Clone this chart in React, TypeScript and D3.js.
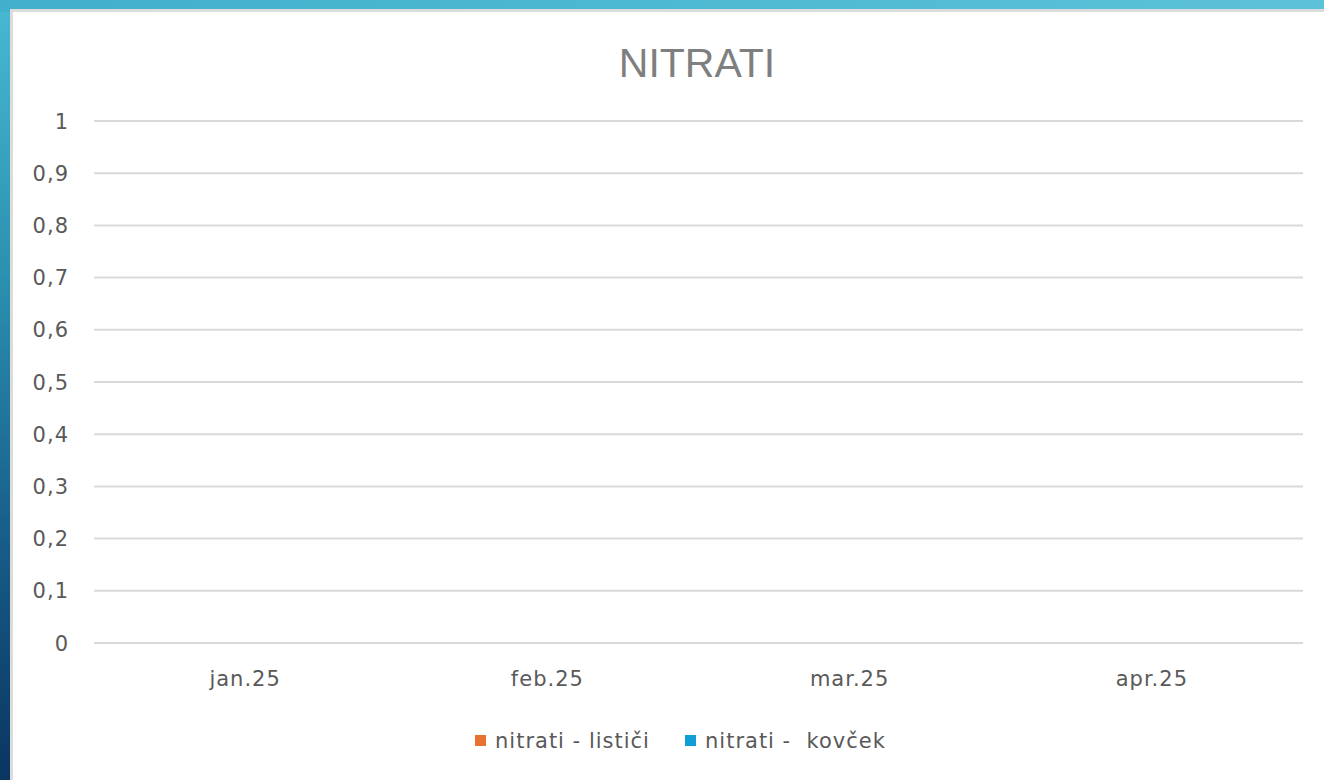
import React from "react";
import * as d3 from "d3";

const categories = ["jan.25", "feb.25", "mar.25", "apr.25"];
const seriesNames = ["nitrati - lističi", "nitrati -  kovček"];
const listiciValues: (number | null)[] = [null, null, null, null];
const kovcekValues: (number | null)[] = [null, null, null, null];
const yTicks = [0, 0.1, 0.2, 0.3, 0.4, 0.5, 0.6, 0.7, 0.8, 0.9, 1];
const colors = ["#E97132", "#0F9ED5"];

const W = 1324;
const H = 780;

export default function App() {
  const x = d3.scaleBand<string>().domain(categories).range([94, 1303]);
  const xs = d3.scaleBand<number>().domain([0, 1]).range([0, x.bandwidth()]).paddingInner(0.1).paddingOuter(0.6);
  const y = d3.scaleLinear().domain([0, 1]).range([643, 121]);
  const fmt = (v: number) => (v === 0 || v === 1 ? String(v) : d3.format(".1f")(v).replace(".", ","));
  const series = [listiciValues, kovcekValues];
  const titleFont = "'Liberation Sans', Arial, sans-serif";
  const font = "'DejaVu Sans', sans-serif";

  return (
    <svg width={W} height={H} style={{ position: "absolute", left: 0, top: 0 }}>
      <defs>
        <linearGradient id="bg" x1="0" y1="0" x2="0" y2="1">
          <stop offset="0" stopColor="#48b9d3" />
          <stop offset="0.35" stopColor="#2b91b0" />
          <stop offset="0.7" stopColor="#175c87" />
          <stop offset="1" stopColor="#0a3560" />
        </linearGradient>
        <linearGradient id="topStrip" x1="0" y1="0" x2="1" y2="0">
          <stop offset="0" stopColor="#40b0cb" />
          <stop offset="1" stopColor="#5cc2d9" />
        </linearGradient>
      </defs>
      <rect x={0} y={0} width={W} height={H} fill="url(#bg)" />
      <rect x={0} y={0} width={W} height={12} fill="url(#topStrip)" />
      <rect x={10} y={9} width={W - 10} height={H - 9} fill="#dcdcdc" />
      <rect x={13} y={12} width={W - 13} height={H - 12} fill="#ffffff" />

      <text x={697} y={77} textAnchor="middle" fontFamily={titleFont} fontSize={41} fill="#7f7f7f">
        NITRATI
      </text>

      {yTicks.map((t) => (
        <g key={t}>
          <line x1={94} x2={1303} y1={y(t)} y2={y(t)} stroke="#d9d9d9" strokeWidth={2} />
          <text x={69} y={y(t)} dy="0.36em" textAnchor="end" fontFamily={font} fontSize={21} letterSpacing={1} fill="#595959">
            {fmt(t)}
          </text>
        </g>
      ))}

      {series.map((vals, si) =>
        vals.map((v, i) =>
          v == null ? null : (
            <rect
              key={`${si}-${i}`}
              x={(x(categories[i]) ?? 0) + (xs(si) ?? 0)}
              y={y(v)}
              width={xs.bandwidth()}
              height={y(0) - y(v)}
              fill={colors[si]}
            />
          )
        )
      )}

      {categories.map((c) => (
        <text key={c} x={(x(c) ?? 0) + x.bandwidth() / 2} y={686} textAnchor="middle" fontFamily={font} fontSize={21} letterSpacing={1} fill="#595959">
          {c}
        </text>
      ))}

      {seriesNames.map((n, i) => {
        const lx = i === 0 ? 475 : 685;
        return (
          <g key={n}>
            <rect x={lx} y={735} width={11} height={11} fill={colors[i]} />
            <text x={lx + 20} y={748} fontFamily={font} fontSize={21} letterSpacing={1} fill="#595959" style={{ whiteSpace: "pre" }}>
              {n}
            </text>
          </g>
        );
      })}
    </svg>
  );
}
